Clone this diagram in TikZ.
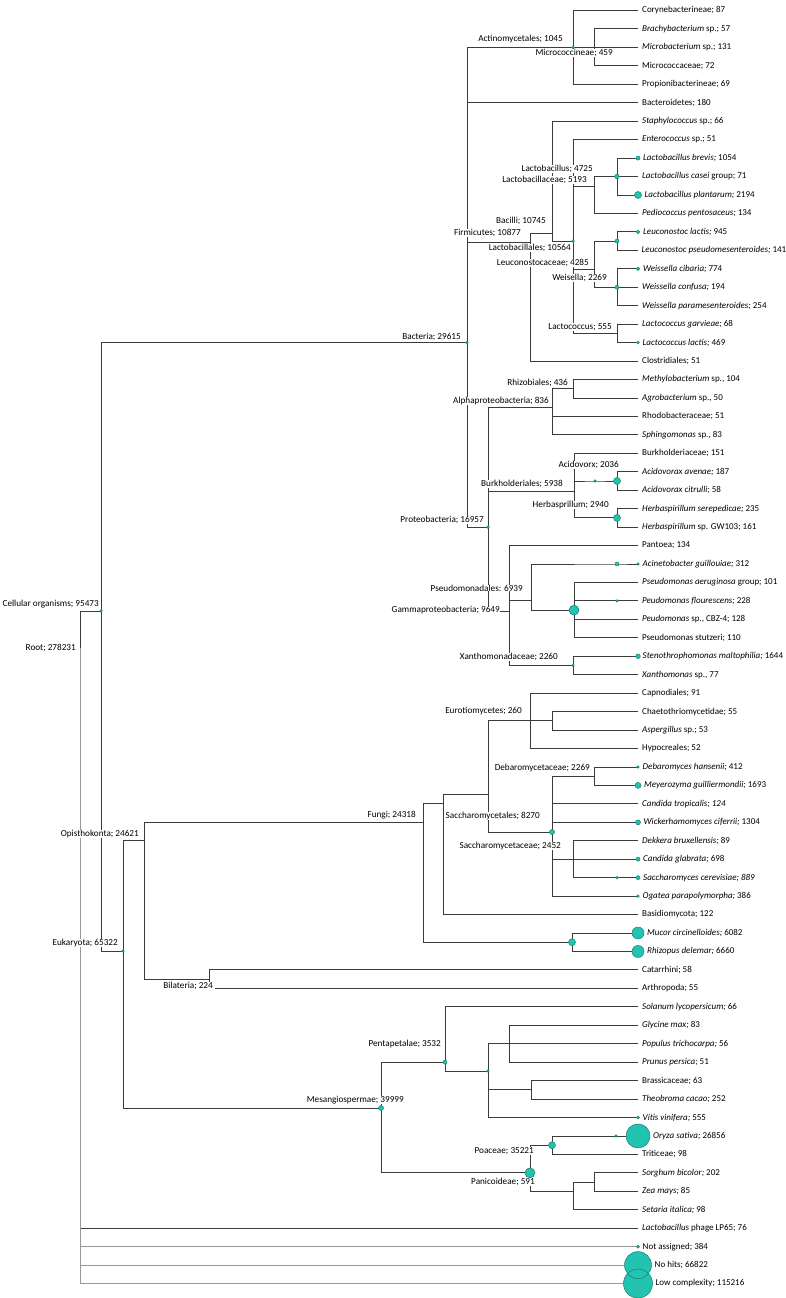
\documentclass[tikz,border=0pt]{standalone}
\usepackage{fontspec}
\setmainfont{Carlito}
\usetikzlibrary{positioning}
\definecolor{branch}{HTML}{3C3C3C}
\definecolor{nodefill}{HTML}{22C3B0}
\definecolor{nodeline}{HTML}{17806F}
\tikzset{
  edge/.style={draw=branch,line width=0.9pt},
  dot/.style={fill=nodefill,draw=nodeline,line width=0.5pt},
  leaf/.style={inner sep=0pt,font=\fontsize{9}{11}\selectfont},
  inner/.style={inner sep=0pt,fill=white,anchor=east,font=\fontsize{9.2}{11}\selectfont},
}

\begin{document}
\begin{tikzpicture}[x=1pt,y=-1pt]
  \useasboundingbox (0,0) rectangle (786,1298);
  % inner nodes (x = depth, y = row)
  \coordinate (root)  at (80,648);
  \coordinate (cell)  at (101,611);
  \coordinate (bac)   at (467,342.6);
  \coordinate (act)   at (573,47.4);
  \coordinate (micro) at (594,47.4);
  \coordinate (firm)  at (530,242);
  \coordinate (bacil) at (552,233);
  \coordinate (lacto) at (573,241.1);
  \coordinate (lbc)   at (594,186);
  \coordinate (lb)    at (617,176.55);
  \coordinate (leuc)  at (594,269);
  \coordinate (leu)   at (617,241.1);
  \coordinate (weis)  at (617,287.25);
  \coordinate (lcoc)  at (617,333.4);
  \coordinate (prot)  at (488,527.1);
  \coordinate (alpha) at (552,407);
  \coordinate (rhizo) at (573,388.7);
  \coordinate (burk)  at (574,491.5);
  \coordinate (coma)  at (595,481);
  \coordinate (acid)  at (617,481);
  \coordinate (herb)  at (617,517.9);
  \coordinate (gamma) at (509,611);
  \coordinate (pso)   at (531,600.9);
  \coordinate (acin)  at (617,564);
  \coordinate (pse)   at (574,610.1);
  \coordinate (flu)   at (617,600.9);
  \coordinate (xan)   at (573,665.5);
  \coordinate (euk)   at (123,951);
  \coordinate (opis)  at (144,840);
  \coordinate (fungi) at (423,822.3);
  \coordinate (dik)   at (443,803);
  \coordinate (asco)  at (488,794);
  \coordinate (euro)  at (530,720.8);
  \coordinate (chae)  at (552,720.8);
  \coordinate (sacc)  at (552,832);
  \coordinate (debf)  at (594,776.2);
  \coordinate (saccf) at (573,859.2);
  \coordinate (scer)  at (617,877.65);
  \coordinate (muc)   at (572,942.2);
  \coordinate (bila)  at (209,979.1);
  \coordinate (mesa)  at (381,1108);
  \coordinate (penta) at (445,1062.15);
  \coordinate (gunn)  at (488,1071);
  \coordinate (ros)   at (509,1043.7);
  \coordinate (bras)  at (531,1089.8);
  \coordinate (poa)   at (530,1172.85);
  \coordinate (bop)   at (552,1145.2);
  \coordinate (ory)   at (616,1135.95);
  \coordinate (pan)   at (573,1191.3);
  \coordinate (andr)  at (594,1182.1);

  % leaves, 18.45 apart
  \coordinate (l1) at (638,10.5);     \node[leaf,right=4pt of l1] (t1) {Corynebacterineae; 87};
  \coordinate (l2) at (638,28.95);    \node[leaf,right=4pt of l2] (t2) {\textit{Brachybacterium} sp.; 57};
  \coordinate (l3) at (638,47.4);     \node[leaf,right=4pt of l3] (t3) {\textit{Microbacterium} sp.; 131};
  \coordinate (l4) at (638,65.85);    \node[leaf,right=4pt of l4] (t4) {Micrococcaceae; 72};
  \coordinate (l5) at (638,84.3);     \node[leaf,right=4pt of l5] (t5) {Propionibacterineae; 69};
  \coordinate (l6) at (638,102.75);   \node[leaf,right=4pt of l6] (t6) {Bacteroidetes; 180};
  \coordinate (l7) at (638,121.2);    \node[leaf,right=4pt of l7] (t7) {\textit{Staphylococcus} sp.; 66};
  \coordinate (l8) at (638,139.65);   \node[leaf,right=4pt of l8] (t8) {\textit{Enterococcus} sp.; 51};
  \coordinate (l9) at (638,158.1);    \node[leaf,right=5pt of l9] (t9) {\textit{Lactobacillus brevis;} 1054};
  \coordinate (l10) at (638,176.55);  \node[leaf,right=4pt of l10] (t10) {\textit{Lactobacillus casei} group; 71};
  \coordinate (l11) at (638,195);     \node[leaf,right=6.5pt of l11] (t11) {\textit{Lactobacillus plantarum;} 2194};
  \coordinate (l12) at (638,213.45);  \node[leaf,right=4pt of l12] (t12) {\textit{Pediococcus pentosaceus;} 134};
  \coordinate (l13) at (638,231.9);   \node[leaf,right=5pt of l13] (t13) {\textit{Leuconostoc lactis;} 945};
  \coordinate (l14) at (638,250.35);  \node[leaf,right=3.5pt of l14] (t14) {\textit{Leuconostoc pseudomesenteroides;} 141};
  \coordinate (l15) at (638,268.8);   \node[leaf,right=5pt of l15] (t15) {\textit{Weissella cibaria;} 774};
  \coordinate (l16) at (638,287.25);  \node[leaf,right=4pt of l16] (t16) {\textit{Weissella confusa;} 194};
  \coordinate (l17) at (638,305.7);   \node[leaf,right=4pt of l17] (t17) {\textit{Weissella paramesenteroides;} 254};
  \coordinate (l18) at (638,324.15);  \node[leaf,right=4pt of l18] (t18) {\textit{Lactococcus garvieae;} 68};
  \coordinate (l19) at (638,342.6);   \node[leaf,right=4.5pt of l19] (t19) {\textit{Lactococcus lactis;} 469};
  \coordinate (l20) at (638,361.05);  \node[leaf,right=4pt of l20] (t20) {Clostridiales; 51};
  \coordinate (l21) at (638,379.5);   \node[leaf,right=4pt of l21] (t21) {\textit{Methylobacterium} sp., 104};
  \coordinate (l22) at (638,397.95);  \node[leaf,right=4pt of l22] (t22) {\textit{Agrobacterium} sp., 50};
  \coordinate (l23) at (638,416.4);   \node[leaf,right=4pt of l23] (t23) {Rhodobacteraceae; 51};
  \coordinate (l24) at (638,434.85);  \node[leaf,right=4pt of l24] (t24) {\textit{Sphingomonas} sp., 83};
  \coordinate (l25) at (638,453.3);   \node[leaf,right=4pt of l25] (t25) {Burkholderiaceae; 151};
  \coordinate (l26) at (638,471.75);  \node[leaf,right=4pt of l26] (t26) {\textit{Acidovorax avenae;} 187};
  \coordinate (l27) at (638,490.2);   \node[leaf,right=4pt of l27] (t27) {\textit{Acidovorax citrulli;} 58};
  \coordinate (l28) at (638,508.65);  \node[leaf,right=4pt of l28] (t28) {\textit{Herbaspirillum serepedicae;} 235};
  \coordinate (l29) at (638,527.1);   \node[leaf,right=4pt of l29] (t29) {\textit{Herbaspirillum} sp. GW103; 161};
  \coordinate (l30) at (638,545.55);  \node[leaf,right=4pt of l30] (t30) {Pantoea; 134};
  \coordinate (l31) at (638,564);     \node[leaf,right=4.5pt of l31] (t31) {\textit{Acinetobacter guillouiae;} 312};
  \coordinate (l32) at (638,582.45);  \node[leaf,right=4pt of l32] (t32) {\textit{Pseudomonas aeruginosa} group; 101};
  \coordinate (l33) at (638,600.9);   \node[leaf,right=4pt of l33] (t33) {\textit{Peudomonas flourescens;} 228};
  \coordinate (l34) at (638,619.35);  \node[leaf,right=4pt of l34] (t34) {\textit{Peudomonas} sp., CBZ-4; 128};
  \coordinate (l35) at (638,637.8);   \node[leaf,right=4pt of l35] (t35) {Pseudomonas stutzeri; 110};
  \coordinate (l36) at (638,656.25);  \node[leaf,right=4.5pt of l36] (t36) {\textit{Stenothrophomonas maltophilia;} 1644};
  \coordinate (l37) at (638,674.7);   \node[leaf,right=4pt of l37] (t37) {\textit{Xanthomonas} sp., 77};
  \coordinate (l38) at (638,693.15);  \node[leaf,right=4pt of l38] (t38) {Capnodiales; 91};
  \coordinate (l39) at (638,711.6);   \node[leaf,right=4pt of l39] (t39) {Chaetothriomycetidae; 55};
  \coordinate (l40) at (638,730.05);  \node[leaf,right=4pt of l40] (t40) {\textit{Aspergillus} sp.; 53};
  \coordinate (l41) at (638,748.5);   \node[leaf,right=4pt of l41] (t41) {Hypocreales; 52};
  \coordinate (l42) at (638,766.95);  \node[leaf,right=4.5pt of l42] (t42) {\textit{Debaromyces hansenii;} 412};
  \coordinate (l43) at (638,785.4);   \node[leaf,right=6pt of l43] (t43) {\textit{Meyerozyma guilliermondii;} 1693};
  \coordinate (l44) at (638,803.85);  \node[leaf,right=4pt of l44] (t44) {\textit{Candida tropicalis; 124}};
  \coordinate (l45) at (638,822.3);   \node[leaf,right=5.5pt of l45] (t45) {\textit{Wickerhamomyces ciferrii;} 1304};
  \coordinate (l46) at (638,840.75);  \node[leaf,right=4pt of l46] (t46) {\textit{Dekkera bruxellensis;} 89};
  \coordinate (l47) at (638,859.2);   \node[leaf,right=5pt of l47] (t47) {\textit{Candida glabrata;} 698};
  \coordinate (l48) at (638,877.65);  \node[leaf,right=5pt of l48] (t48) {\textit{Saccharomyces cerevisiae; 889}};
  \coordinate (l49) at (638,896.1);   \node[leaf,right=4.5pt of l49] (t49) {\textit{Ogatea parapolymorpha;} 386};
  \coordinate (l50) at (638,914.55);  \node[leaf,right=4pt of l50] (t50) {Basidiomycota; 122};
  \coordinate (l51) at (638,933);     \node[leaf,right=9pt of l51] (t51) {\textit{Mucor circinelloides;} 6082};
  \coordinate (l52) at (638,951.45);  \node[leaf,right=9pt of l52] (t52) {\textit{Rhizopus delemar;} 6660};
  \coordinate (l53) at (638,969.9);   \node[leaf,right=4pt of l53] (t53) {Catarrhini; 58};
  \coordinate (l54) at (638,988.35);  \node[leaf,right=4pt of l54] (t54) {Arthropoda; 55};
  \coordinate (l55) at (638,1006.8);  \node[leaf,right=4pt of l55] (t55) {\textit{Solanum lycopersicum;} 66};
  \coordinate (l56) at (638,1025.25); \node[leaf,right=4pt of l56] (t56) {\textit{Glycine max;} 83};
  \coordinate (l57) at (638,1043.7);  \node[leaf,right=4pt of l57] (t57) {\textit{Populus trichocarpa;} 56};
  \coordinate (l58) at (638,1062.15); \node[leaf,right=4pt of l58] (t58) {\textit{Prunus persica;} 51};
  \coordinate (l59) at (638,1080.6);  \node[leaf,right=4pt of l59] (t59) {Brassicaceae; 63};
  \coordinate (l60) at (638,1099.05); \node[leaf,right=4pt of l60] (t60) {\textit{Theobroma cacao;} 252};
  \coordinate (l61) at (638,1117.5);  \node[leaf,right=4.5pt of l61] (t61) {\textit{Vitis vinifera;} 555};
  \coordinate (l62) at (638,1135.95); \node[leaf,right=15pt of l62] (t62) {\textit{Oryza sativa;} 26856};
  \coordinate (l63) at (638,1154.4);  \node[leaf,right=4pt of l63] (t63) {Triticeae; 98};
  \coordinate (l64) at (638,1172.85); \node[leaf,right=4pt of l64] (t64) {\textit{Sorghum bicolor;} 202};
  \coordinate (l65) at (638,1191.3);  \node[leaf,right=4pt of l65] (t65) {\textit{Zea mays;} 85};
  \coordinate (l66) at (638,1209.75); \node[leaf,right=4pt of l66] (t66) {\textit{Setaria italica;} 98};
  \coordinate (l67) at (638,1228.2);  \node[leaf,right=4pt of l67] (t67) {\textit{Lactobacillus} phage LP65; 76};
  \coordinate (l68) at (638,1246.65); \node[leaf,right=4.5pt of l68] (t68) {Not assigned; 384};
  \coordinate (l69) at (638,1265.1);  \node[leaf,right=16.5pt of l69] (t69) {No hits; 66822};
  \coordinate (l70) at (638,1283.55); \node[leaf,right=17.5pt of l70] (t70) {Low complexity; 115216};

  % branches
  \draw[edge] (root) |- (cell) (root) |- (l67);
  \draw[edge,draw=gray!80] (root) |- (l68) (root) |- (l69) (root) |- (l70);
  \draw[edge] (cell) |- (bac) (cell) |- (euk);
  \draw[edge] (bac) |- (act) (bac) |- (l6) (bac) |- (firm) (bac) |- (prot);
  \draw[edge] (act) |- (l1) (act) |- (micro) (act) |- (l5);
  \draw[edge] (micro) |- (l2) (micro) |- (l3) (micro) |- (l4);
  \draw[edge] (firm) |- (bacil) (firm) |- (l20);
  \draw[edge] (bacil) |- (l7) (bacil) |- (lacto);
  \draw[edge] (lacto) |- (l8) (lacto) |- (lbc) (lacto) |- (leuc) (lacto) |- (lcoc);
  \draw[edge] (lbc) |- (lb) (lbc) |- (l12);
  \draw[edge] (lb) |- (l9) (lb) |- (l10) (lb) |- (l11);
  \draw[edge] (leuc) |- (leu) (leuc) |- (weis);
  \draw[edge] (leu) |- (l13) (leu) |- (l14);
  \draw[edge] (weis) |- (l15) (weis) |- (l16) (weis) |- (l17);
  \draw[edge] (lcoc) |- (l18) (lcoc) |- (l19);
  \draw[edge] (prot) |- (alpha) (prot) |- (burk) (prot) |- (gamma);
  \draw[edge] (alpha) |- (rhizo) (alpha) |- (l23) (alpha) |- (l24);
  \draw[edge] (rhizo) |- (l21) (rhizo) |- (l22);
  \draw[edge] (burk) |- (l25) (burk) |- (coma) -- (acid) (burk) |- (herb);
  \draw[edge] (acid) |- (l26) (acid) |- (l27);
  \draw[edge] (herb) |- (l28) (herb) |- (l29);
  \draw[edge] (gamma) |- (l30) (gamma) |- (pso) (gamma) |- (xan);
  \draw[edge] (pso) |- (acin) -- (l31) (pso) |- (pse);
  \draw[edge] (pse) |- (l32) (pse) |- (flu) -- (l33) (pse) |- (l34) (pse) |- (l35);
  \draw[edge] (xan) |- (l36) (xan) |- (l37);
  \draw[edge] (euk) |- (opis) (euk) |- (mesa);
  \draw[edge] (opis) |- (fungi) (opis) |- (bila);
  \draw[edge] (fungi) |- (dik) (fungi) |- (muc);
  \draw[edge] (dik) |- (asco) (dik) |- (l50);
  \draw[edge] (asco) |- (euro) (asco) |- (sacc);
  \draw[edge] (euro) |- (l38) (euro) |- (chae) (euro) |- (l41);
  \draw[edge] (chae) |- (l39) (chae) |- (l40);
  \draw[edge] (sacc) |- (debf) (sacc) |- (l44) (sacc) |- (l45) (sacc) |- (saccf) (sacc) |- (l49);
  \draw[edge] (debf) |- (l42) (debf) |- (l43);
  \draw[edge] (saccf) |- (l46) (saccf) |- (l47) (saccf) |- (scer) -- (l48);
  \draw[edge] (muc) |- (l51) (muc) |- (l52);
  \draw[edge] (bila) |- (l53) (bila) |- (l54);
  \draw[edge] (mesa) |- (penta) (mesa) |- (poa);
  \draw[edge] (penta) |- (l55) (penta) |- (gunn);
  \draw[edge] (gunn) |- (ros) (gunn) |- (bras) (gunn) |- (l61);
  \draw[edge] (ros) |- (l56) (ros) |- (l57) (ros) |- (l58);
  \draw[edge] (bras) |- (l59) (bras) |- (l60);
  \draw[edge] (poa) |- (bop) (poa) |- (pan);
  \draw[edge] (bop) |- (ory) -- (l62) (bop) |- (l63);
  \draw[edge] (pan) |- (andr) (pan) |- (l66);
  \draw[edge] (andr) |- (l64) (andr) |- (l65);

  % labels of inner nodes (right end given)
  \node[inner] (tact)   at (563,39)   {Actinomycetales; 1045};
  \node[inner] (tmicro) at (613,53)   {Micrococcineae; 459};
  \node[inner] (tlb)    at (593,169)  {Lactobacillus; 4725};
  \node[inner] (tlbc)   at (587,180)  {Lactobacillaceae; 5193};
  \node[inner] (tbacil) at (546,221)  {Bacilli; 10745};
  \node[inner] (tfirm)  at (521,233)  {Firmicutes; 10877};
  \node[inner] (tlacto) at (571,248)  {Lactobacillales; 10564};
  \node[inner] (tleuc)  at (589,263)  {Leuconostocaceae; 4285};
  \node[inner] (tweis)  at (607,278)  {Weisella; 2269};
  \node[inner] (tlcoc)  at (612,327)  {Lactococcus; 555};
  \node[inner] (tbac)   at (461,337)  {Bacteria; 29615};
  \node[inner] (trhizo) at (568,383)  {Rhizobiales; 436};
  \node[inner] (talpha) at (549,401)  {Alphaproteobacteria; 836};
  \node[inner] (tacid)  at (619,465)  {Acidovorx; 2036};
  \node[inner] (tburk)  at (563,484)  {Burkholderiales; 5938};
  \node[inner] (therb)  at (609,505)  {Herbasprillum; 2940};
  \node[inner] (tprot)  at (484,520)  {Proteobacteria; 16957};
  \node[inner] (tpso)   at (523,588)  {Pseudomonadales: 6939};
  \node[inner] (tgamma) at (500,610)  {Gammaproteobacteria; 9649};
  \node[inner] (txan)   at (558,657)  {Xanthomonadaceae; 2260};
  \node[inner] (teuro)  at (522,711)  {Eurotiomycetes; 260};
  \node[inner] (tdebf)  at (590,768)  {Debaromycetaceae; 2269};
  \node[inner] (tfungi) at (416,815)  {Fungi; 24318};
  \node[inner] (tsacc)  at (540,816)  {Saccharomycetales; 8270};
  \node[inner] (tsaccf) at (561,846)  {Saccharomycetaceae; 2452};
  \node[inner] (tcell)  at (99,604)   {Cellular organisms; 95473};
  \node[inner] (troot)  at (76,648)   {Root; 278231};
  \node[inner] (topis)  at (139,834)  {Opisthokonta; 24621};
  \node[inner] (teuk)   at (118,943)  {Eukaryota; 65322};
  \node[inner,inner xsep=2pt] (tbila) at (215,986) {Bilateria; 224};
  \node[inner] (tpenta) at (441,1044) {Pentapetalae; 3532};
  \node[inner] (tmesa)  at (404,1100) {Mesangiospermae; 39999};
  \node[inner] (tpoa)   at (534,1151) {Poaceae; 35221};
  \node[inner] (tpan)   at (535,1182) {Panicoideae; 591};

  % node sizes
  \path[dot] (act) circle (1.3pt) (lacto) circle (1.3pt) (bac) circle (1.3pt)
    (prot) circle (1.3pt) (coma) circle (1.3pt) (flu) circle (1.3pt)
    (xan) circle (1.3pt) (cell) circle (1.3pt) (euk) circle (1.3pt)
    (scer) circle (1.3pt) (gunn) circle (1.3pt) (ory) circle (1.3pt);
  \path[dot] (lb) circle (2.3pt) (leu) circle (2pt) (weis) circle (2pt)
    (acin) circle (2pt) (sacc) circle (2.5pt) (mesa) circle (2.5pt)
    (penta) circle (2pt);
  \path[dot] (acid) circle (3.5pt) (herb) circle (3.5pt) (muc) circle (3.5pt)
    (bop) circle (3.5pt) (pse) circle (5pt) (poa) circle (5pt);
  % leaf sizes
  \path[dot] (l9) circle (2pt) (l11) circle (3.5pt) (l13) circle (1.8pt)
    (l15) circle (1.8pt) (l19) circle (1.3pt) (l31) circle (1.3pt)
    (l36) circle (2.3pt) (l42) circle (1.3pt) (l43) circle (3pt)
    (l45) circle (2.5pt) (l47) circle (2pt) (l48) circle (2pt)
    (l49) circle (1.3pt) (l51) circle (6pt) (l52) circle (6pt)
    (l61) circle (1.5pt) (l62) circle (12pt) (l68) circle (1.5pt);
  \path[dot] (l69) circle (13.5pt) (l70) circle (14.5pt);
\end{tikzpicture}
\end{document}
